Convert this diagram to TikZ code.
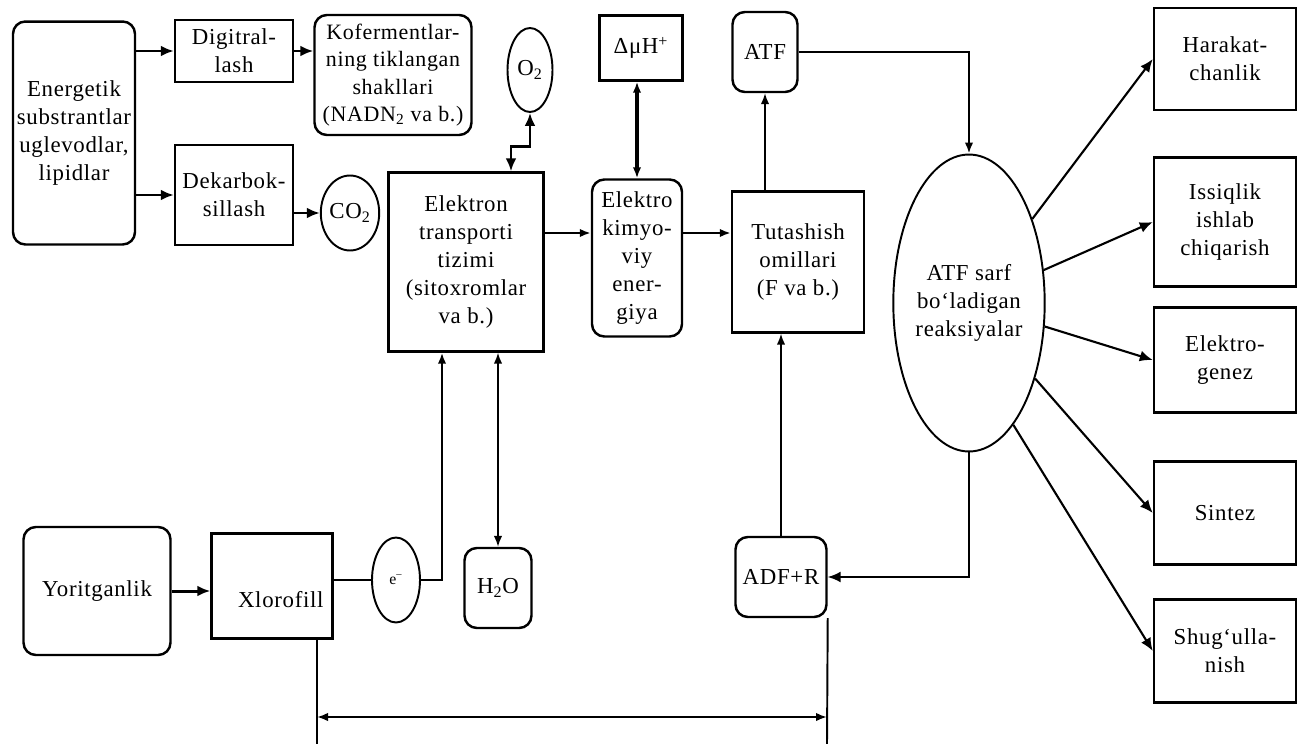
\documentclass[tikz,border=0pt]{standalone}
\usepackage{fontspec}
\setmainfont[LetterSpace=3]{Liberation Serif}
\usepackage{tikz}
\usetikzlibrary{arrows.meta,shapes.geometric}

\begin{document}
\begin{tikzpicture}[x=0.02cm, y=-0.02cm,
      box/.style={draw, line width=1.4pt, align=center, inner sep=1pt, font=\fontsize{13}{16}\selectfont},
      rbox/.style={box, rounded corners=7pt},
      oval/.style={ellipse, draw, line width=1.1pt, inner sep=0pt, font=\fontsize{13}{16}\selectfont},
      arr/.style={-{Latex[length=2.6mm,width=2.2mm]}, line width=1.7pt},
      tarr/.style={-{Latex[length=2.2mm,width=1.7mm]}, line width=0.9pt},
      darr/.style={{Latex[length=2.2mm,width=1.7mm]}-{Latex[length=2.2mm,width=1.7mm]}, line width=0.9pt}
    ]
      \useasboundingbox (0,0) rectangle (1299,744);
      % upper row
      \node[rbox, minimum width=2.44cm, minimum height=4.46cm] (en) at (74,133)
        {Energetik\\substrantlar\\uglevodlar,\\lipidlar};
      \node[box, minimum width=2.36cm, minimum height=1.24cm] (dig) at (234,51) {Digitral-\\lash};
      \node[rbox, minimum width=3.14cm, minimum height=2.40cm, font=\fontsize{12.5}{15.5}\selectfont] (kof) at (393,75)
        {Kofermentlar-\\ning tiklangan\\shakllari\\(NADN\textsubscript{2} va b.)};
      \node[box, minimum width=2.36cm, minimum height=2.00cm] (dek) at (234,195) {Dekarbok-\\sillash};
      \node[oval, minimum width=0.92cm, minimum height=1.50cm] (co2) at (350,213) {CO\textsubscript{2}};
      \node[oval, minimum width=0.90cm, minimum height=1.68cm] (o2) at (530,70) {O\textsubscript{2}};
      \node[box, minimum width=1.66cm, minimum height=1.30cm] (dmu) at (641,48) {ΔμH\textsuperscript{+}};
      \node[rbox, minimum width=1.30cm, minimum height=1.60cm] (atf) at (765,52) {ATF};
      % middle row
      \node[box, minimum width=3.10cm, minimum height=3.58cm] (etz) at (466,262)
        {Elektron\\transporti\\tizimi\\(sitoxromlar\\va b.)};
      \node[rbox, minimum width=1.80cm, minimum height=3.14cm] (ekim) at (637,258)
        {Elektro\\kimyo-\\viy\\ener-\\giya};
      \node[box, minimum width=2.64cm, minimum height=2.82cm] (tut) at (798,262)
        {Tutashish\\omillari\\(F va b.)};
      \node[oval, minimum width=2.96cm, minimum height=5.94cm, align=center] (sarf) at (969,303)
        {ATF sarf\\bo‘ladigan\\reaksiyalar};
      % right column
      \node[box, minimum width=2.84cm, minimum height=2.04cm] (har) at (1225,59) {Harakat-\\chanlik};
      \node[box, minimum width=2.84cm, minimum height=2.58cm] (iss) at (1225,222) {Issiqlik\\ishlab\\chiqarish};
      \node[box, minimum width=2.84cm, minimum height=2.10cm] (elg) at (1225,360) {Elektro-\\genez};
      \node[box, minimum width=2.84cm, minimum height=2.06cm] (sin) at (1225,513) {Sintez};
      \node[box, minimum width=2.84cm, minimum height=2.06cm] (shu) at (1225,651) {Shug‘ulla-\\nish};
      % lower row
      \node[rbox, minimum width=2.94cm, minimum height=2.56cm] (yor) at (97,591) {Yoritganlik};
      \node[box, minimum width=2.42cm, minimum height=2.10cm] (xlo) at (272,586)
        {\raisebox{-12pt}[0pt][0pt]{\hspace{0.35cm}Xlorofill}};
      \node[oval, minimum width=0.96cm, minimum height=1.70cm, font=\small] (el) at (396,580) {e\textsuperscript{--}};
      \node[rbox, minimum width=1.34cm, minimum height=1.60cm] (h2o) at (498,588) {H\textsubscript{2}O};
      \node[rbox, minimum width=1.82cm, minimum height=1.60cm] (adf) at (781,577) {ADF+R};
      \coordinate (bl) at (317,744);
      \coordinate (br) at (827,744);
      \coordinate (dl) at (317,717);
      \coordinate (dr) at (827,717);

      \draw[arr] (dig.west -| en.east) -- (dig.west);
      \draw[arr] (dek.west -| en.east) -- (dek.west);
      \draw[arr] (dig.east) -- (dig.east -| kof.west);
      \draw[arr] (co2.west -| dek.east) -- (co2.west);
      \draw[{Latex[length=2.6mm,width=2.2mm]}-{Latex[length=2.6mm,width=2.2mm]}, line width=1.6pt]
        ([xshift=0.9cm]etz.north) -- ++(0,-25) -| (o2.south);
      \draw[darr, line width=1.8pt] (ekim.north) -- (ekim.north |- dmu.south);
      \draw[tarr, line width=1.6pt] ([yshift=0.58cm]etz.east) -- ([yshift=0.58cm]etz.east -| ekim.west);
      \draw[tarr, line width=1.6pt] ([yshift=0.5cm]ekim.east) -- ([yshift=0.5cm]ekim.east -| tut.west);
      \draw[tarr] (tut.north -| atf) -- (atf.south);
      \draw[tarr, line width=1.3pt] (atf.east) -| (sarf.north);
      \draw[arr, line width=1.2pt] (sarf) -- (har.west);
      \draw[arr, line width=1.2pt] (sarf) -- (iss.west);
      \draw[arr, line width=1.2pt] (sarf) -- (elg.west);
      \draw[arr, line width=1.2pt] (sarf) -- (sin.west);
      \draw[arr, line width=1.2pt] (sarf.-70) -- (shu.west);
      \draw[arr, line width=1.1pt] (sarf.south) |- (adf.east);
      \draw[tarr] (adf.north) -- (adf.north |- tut.south);
      \draw[arr] (yor.east) -- (yor.east -| xlo.west);
      \draw[line width=1.1pt] (el.west -| xlo.east) -- (el.west);
      \draw[tarr, line width=1.4pt] (el.east) -| ([xshift=-0.48cm]etz.south);
      \draw[darr] (h2o.north) -- (h2o.north |- etz.south);
      \draw[line width=1.1pt] (xlo.south -| bl) -- (bl);
      \draw[line width=1.1pt] (adf.south east) -- (br);
      \draw[darr, line width=1.1pt] (dl) -- (dr);
    \end{tikzpicture}
\end{document}
